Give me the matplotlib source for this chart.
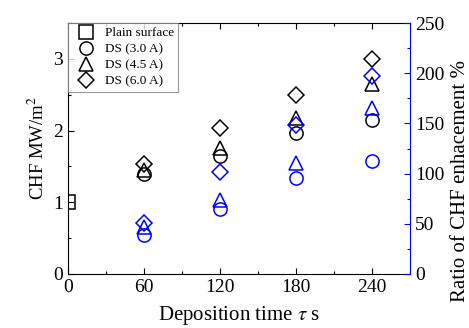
import matplotlib
matplotlib.use("Agg")
import matplotlib.pyplot as plt
from matplotlib.ticker import MultipleLocator
from matplotlib.lines import Line2D

plt.rcParams['font.family'] = ['Liberation Serif', 'DejaVu Serif']
plt.rcParams['mathtext.fontset'] = 'stix'

# Data
time = [60, 120, 180, 240]
plain_x = [0]
plain_chf = [1.0]
chf_30 = [1.39, 1.65, 1.96, 2.15]
chf_45 = [1.45, 1.76, 2.18, 2.65]
chf_60 = [1.53, 2.04, 2.50, 3.00]
ratio_30 = [39, 65, 96, 113]
ratio_45 = [47, 74, 111, 165]
ratio_60 = [51, 102, 148, 197]

fig = plt.figure(figsize=(4.69, 3.28), dpi=100)
ax = fig.add_axes([68/469, 1-274/328, (410-68)/469, (274-23)/328])
ax2 = ax.twinx()

ms = 9.5
kw = dict(linestyle='none', markerfacecolor='none', markersize=ms, markeredgewidth=1.1)
kwd = {**kw, 'markersize': ms*0.85}
ax.plot(plain_x, plain_chf, marker='s', color='black', clip_on=True, **kw)
ax.plot(time, chf_30, marker='o', color='black', **kw)
ax.plot(time, chf_45, marker='^', color='black', **kw)
ax.plot(time, chf_60, marker='D', color='black', **kwd)

ax2.plot(time, ratio_30, marker='o', color='blue', **kw)
ax2.plot(time, ratio_45, marker='^', color='blue', **kw)
ax2.plot(time, ratio_60, marker='D', color='blue', **kwd)

ax.set_xlim(0, 270)
ax.set_ylim(0, 3.5)
ax2.set_ylim(0, 250)
ax.set_xticks([0, 60, 120, 180, 240])
ax.xaxis.set_minor_locator(MultipleLocator(30))
ax.set_yticks([0, 1, 2, 3])
ax.yaxis.set_minor_locator(MultipleLocator(0.5))
ax2.set_yticks([0, 50, 100, 150, 200, 250])
ax2.yaxis.set_minor_locator(MultipleLocator(25))

ax.tick_params(which='both', direction='in', top=True, labelsize=14, width=0.8)
ax.tick_params(which='major', length=4)
ax.tick_params(which='minor', length=2.5)
ax2.tick_params(which='both', direction='in', colors='blue', labelcolor='black', labelsize=14, width=0.8)
ax2.tick_params(which='major', length=4)
ax2.tick_params(which='minor', length=2.5)
for s in ['left', 'bottom', 'top']:
    ax2.spines[s].set_visible(False)
ax2.spines['right'].set_color('blue')
ax.spines['right'].set_visible(False)

ax.set_xlabel(r'Deposition time $\tau$ s', fontsize=15, labelpad=6)
ax.set_ylabel(r'CHF MW/m$^2$', fontsize=13.5)
ax2.set_ylabel('Ratio of CHF enhacement %', fontsize=15)
ax2.yaxis.set_label_coords(1.12, 0.37)

handles = [
    Line2D([], [], marker='s', color='black', **kw),
    Line2D([], [], marker='o', color='black', **kw),
    Line2D([], [], marker='^', color='black', **kw),
    Line2D([], [], marker='D', color='black', **kwd),
]
labels = ['Plain surface', 'DS (3.0 A)', 'DS (4.5 A)', 'DS (6.0 A)']
leg = ax2.legend(handles, labels, loc='upper left', fontsize=9.5, frameon=True,
                 fancybox=False, edgecolor='gray', borderaxespad=0, handlelength=2.1,
                 labelspacing=0.3, borderpad=0.3, handletextpad=0.4)
leg.get_frame().set_linewidth(0.8)

fig.savefig('out.png', dpi=100)
